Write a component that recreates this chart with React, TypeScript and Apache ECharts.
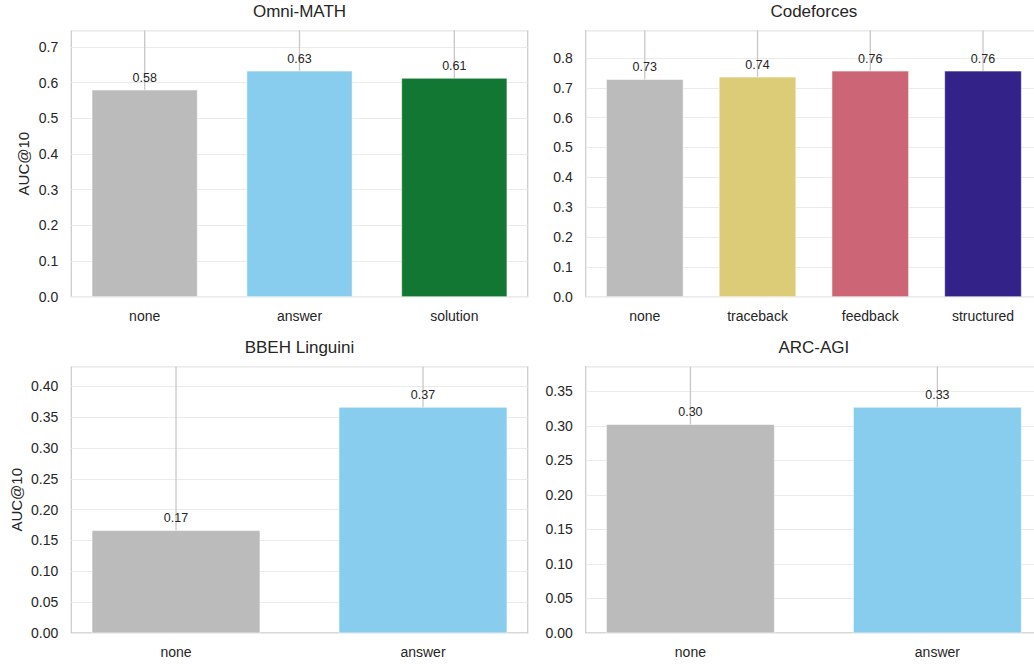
import React, { useEffect, useRef } from "react";
import * as echarts from "echarts";

// ---- data ----
const omniCats = ["none", "answer", "solution"];
const omniVals = [0.579, 0.632, 0.612];
const omniErr = [0.2, 0.15, 0.16];
const omniColors = ["#BBBBBB", "#88CCEE", "#117733"];

const cfCats = ["none", "traceback", "feedback", "structured"];
const cfVals = [0.728, 0.736, 0.756, 0.756];
const cfErr = [0.2, 0.2, 0.2, 0.2];
const cfColors = ["#BBBBBB", "#DDCC77", "#CC6677", "#332288"];

const bbehCats = ["none", "answer"];
const bbehVals = [0.166, 0.366];
const bbehErr = [0.3, 0.12];
const bbehColors = ["#BBBBBB", "#88CCEE"];

const arcCats = ["none", "answer"];
const arcVals = [0.302, 0.327];
const arcErr = [0.15, 0.12];
const arcColors = ["#BBBBBB", "#88CCEE"];

const titles = ["Omni-MATH", "Codeforces", "BBEH Linguini", "ARC-AGI"];
const yIntervals = [0.1, 0.1, 0.05, 0.05];
const yDecimals = [1, 1, 2, 2];
const yAxisName = "AUC@10";

const FONT = '"Liberation Sans", Arial, "DejaVu Sans", sans-serif';
const TEXT = "#262626";
const BAR_W = 0.68;

export default function App() {
  const ref = useRef<HTMLDivElement>(null);
  useEffect(() => {
    if (!ref.current) return;
    const chart = echarts.init(ref.current, undefined, { renderer: "svg" });

    const panels = [
      { cats: omniCats, vals: omniVals, err: omniErr, colors: omniColors },
      { cats: cfCats, vals: cfVals, err: cfErr, colors: cfColors },
      { cats: bbehCats, vals: bbehVals, err: bbehErr, colors: bbehColors },
      { cats: arcCats, vals: arcVals, err: arcErr, colors: arcColors },
    ];
    const lefts = [71.3, 585.7];
    const tops = [30.5, 366.7];
    const W = 456.4;
    const H = 266.2;
    const titleTops = [3, 339];

    const grid: any[] = [];
    const xAxis: any[] = [];
    const yAxis: any[] = [];
    const series: any[] = [];
    const title: any[] = [];

    panels.forEach((p, k) => {
      const col = k % 2;
      const row = Math.floor(k / 2);
      const n = p.cats.length;
      const m = 0.05 * (n - 1 + BAR_W);
      const xmin = -BAR_W / 2 - m;
      const xmax = n - 1 + BAR_W / 2 + m;
      const ymax = Math.max(...p.vals) * 1.18;
      const interval = yIntervals[k];
      const dec = yDecimals[k];

      grid.push({
        left: lefts[col],
        top: tops[row],
        width: W,
        height: H,
        show: true,
        borderColor: "#cccccc",
        borderWidth: 1.25,
        backgroundColor: "#ffffff",
        containLabel: false,
      });
      title.push({
        text: titles[k],
        left: lefts[col] + W / 2,
        top: titleTops[row],
        textAlign: "center",
        padding: 0,
        textStyle: { fontSize: 17, fontWeight: "normal", color: TEXT, fontFamily: FONT },
      });
      xAxis.push({
        type: "value",
        gridIndex: k,
        min: xmin,
        max: xmax,
        axisLine: { show: false },
        axisTick: { show: false },
        splitLine: { show: false },
        axisLabel: {
          customValues: p.cats.map((_, i) => i),
          formatter: (v: number) => p.cats[Math.round(v)] ?? "",
          color: TEXT,
          fontSize: 14,
          fontFamily: FONT,
          margin: 12,
        },
      });
      yAxis.push({
        type: "value",
        gridIndex: k,
        min: 0,
        max: ymax,
        interval,
        name: col === 0 ? yAxisName : "",
        nameLocation: "middle",
        nameGap: row === 0 ? 40 : 47,
        nameTextStyle: { fontSize: 15, color: TEXT, fontFamily: FONT },
        axisLine: { show: false },
        axisTick: { show: false },
        splitLine: { show: true, lineStyle: { color: "#ebebeb", width: 1 } },
        axisLabel: {
          color: TEXT,
          fontSize: 14,
          fontFamily: FONT,
          margin: 13,
          formatter: (v: number) =>
            Math.abs(v / interval - Math.round(v / interval)) < 1e-6 ? v.toFixed(dec) : "",
        },
      });

      // error bars
      series.push({
        type: "custom",
        xAxisIndex: k,
        yAxisIndex: k,
        z: 2,
        silent: true,
        data: p.vals.map((v, i) => [i, v - p.err[i], v + p.err[i]]),
        renderItem: (params: any, api: any) => {
          const i = api.value(0);
          const lo = Math.max(0, api.value(1));
          const hi = Math.min(ymax, api.value(2));
          const a = api.coord([i, lo]);
          const b = api.coord([i, hi]);
          return {
            type: "line",
            shape: { x1: a[0], y1: a[1], x2: b[0], y2: b[1] },
            style: { stroke: "#c8c8c8", lineWidth: 1.3 },
          };
        },
      });

      // bars with value labels
      series.push({
        type: "custom",
        xAxisIndex: k,
        yAxisIndex: k,
        z: 3,
        silent: true,
        data: p.vals.map((v, i) => [i, v]),
        renderItem: (params: any, api: any) => {
          const i = api.value(0);
          const v = api.value(1);
          const p1 = api.coord([i - BAR_W / 2, v]);
          const p2 = api.coord([i + BAR_W / 2, 0]);
          return {
            type: "group",
            children: [
              {
                type: "rect",
                shape: { x: p1[0], y: p1[1], width: p2[0] - p1[0], height: p2[1] - p1[1] },
                style: { fill: p.colors[i], stroke: "rgba(255,255,255,0.55)", lineWidth: 1 },
              },
              {
                type: "text",
                x: (p1[0] + p2[0]) / 2,
                y: p1[1] - 6,
                style: {
                  text: v.toFixed(2),
                  fill: TEXT,
                  fontSize: 12.5,
                  fontFamily: FONT,
                  align: "center",
                  verticalAlign: "bottom",
                  textAlign: "center",
                  textVerticalAlign: "bottom",
                },
              },
            ],
          };
        },
      });
    });

    chart.setOption({
      animation: false,
      backgroundColor: "#ffffff",
      title,
      grid,
      xAxis,
      yAxis,
      series,
    });
    return () => chart.dispose();
  }, []);

  return (
    <div
      style={{
        position: "fixed",
        left: 0,
        top: 0,
        width: 1034,
        height: 665,
        overflow: "hidden",
        background: "#ffffff",
      }}
    >
      <div ref={ref} style={{ width: 1060, height: 665 }} />
    </div>
  );
}
